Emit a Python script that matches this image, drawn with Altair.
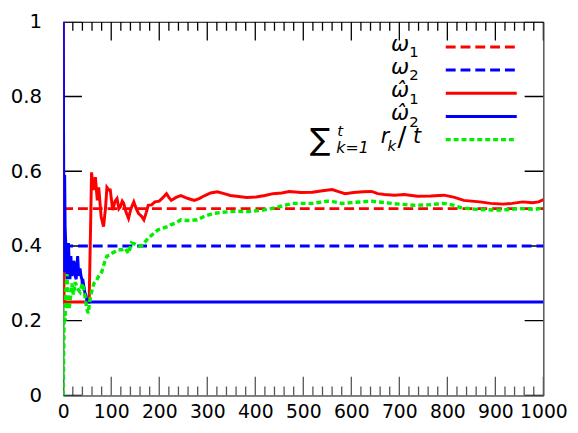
import altair as alt
import pandas as pd

W, H = 487, 379

# ---------------- data ----------------
x_major = list(range(0, 1001, 100))
x_minor = [v for v in range(0, 1001, 20) if v % 100 != 0]
y_major = [0, 0.2, 0.4, 0.6, 0.8, 1]

t_full = [0, 1000]
omega1 = [0.5, 0.5]
omega2 = [0.4, 0.4]

red_t = [0, 1, 2, 3, 54, 57, 59, 63, 67, 71, 74, 79, 84, 88, 91, 95, 98, 103, 108, 112,
         116, 119, 123, 126, 131, 136, 141, 147, 152, 157, 163, 168, 173, 177, 184, 191,
         200, 208, 215, 220, 225, 235, 245, 260, 273, 283, 295, 307, 321, 335, 348, 361,
         382, 402, 420, 437, 455, 471, 495, 519, 540, 560, 575, 587, 605, 625, 642, 655,
         669, 690, 710, 738, 765, 793, 815, 834, 850, 868, 890, 916, 935, 957, 977, 990, 1000]
red_v = [1.0, 0.33, 0.25, 0.25, 0.25, 0.45, 0.597, 0.55, 0.584, 0.522, 0.557, 0.478, 0.452,
         0.5, 0.557, 0.55, 0.55, 0.496, 0.52, 0.527, 0.50, 0.505, 0.52, 0.514, 0.49, 0.474,
         0.5, 0.518, 0.50, 0.487, 0.48, 0.47, 0.49, 0.509, 0.51, 0.518, 0.52, 0.53, 0.54,
         0.53, 0.522, 0.53, 0.535, 0.527, 0.522, 0.527, 0.535, 0.542, 0.545, 0.54, 0.535,
         0.533, 0.530, 0.531, 0.535, 0.540, 0.542, 0.546, 0.543, 0.544, 0.548, 0.551, 0.545,
         0.540, 0.543, 0.545, 0.546, 0.540, 0.538, 0.536, 0.538, 0.533, 0.534, 0.536, 0.53,
         0.522, 0.52, 0.518, 0.514, 0.512, 0.514, 0.518, 0.516, 0.518, 0.524]

blue_t = [0, 1, 2, 3, 4, 5, 6, 8, 10, 11, 13, 14, 16, 18, 20, 22, 23, 25, 27, 29, 30, 32,
          33, 35, 37, 39, 40, 42, 45, 47, 50, 52, 1000]
blue_v = [1.0, 0.60, 0.33, 0.59, 0.45, 0.417, 0.36, 0.311, 0.38, 0.408, 0.33, 0.311, 0.373,
          0.32, 0.33, 0.36, 0.355, 0.32, 0.311, 0.35, 0.373, 0.33, 0.32, 0.34, 0.32, 0.31,
          0.294, 0.30, 0.276, 0.27, 0.25, 0.25, 0.25]

green_t = [0, 2, 4, 6, 8, 10, 12, 15, 18, 21, 25, 30, 35, 40, 45, 49, 52, 55, 59, 64, 69,
           74, 80, 86, 91, 96, 101, 108, 115, 122, 129, 136, 142, 150, 157, 163, 170, 177,
           187, 197, 208, 218, 225, 235, 245, 260, 279, 295, 313, 330, 348, 365, 382, 400,
           416, 433, 450, 465, 478, 500, 519, 535, 550, 565, 580, 600, 620, 642, 655, 669,
           700, 731, 760, 793, 810, 827, 845, 861, 885, 909, 930, 950, 970, 984, 1000]
green_v = [0, 0.22, 0.2, 0.29, 0.325, 0.24, 0.23, 0.26, 0.3, 0.27, 0.303, 0.285, 0.277, 0.3,
           0.268, 0.232, 0.22, 0.25, 0.277, 0.30, 0.307, 0.32, 0.33, 0.356, 0.373, 0.375,
           0.38, 0.385, 0.39, 0.39, 0.394, 0.38, 0.408, 0.405, 0.40, 0.40, 0.41, 0.421,
           0.432, 0.443, 0.448, 0.452, 0.457, 0.462, 0.47, 0.468, 0.47, 0.48, 0.487, 0.49,
           0.492, 0.493, 0.492, 0.494, 0.496, 0.50, 0.505, 0.51, 0.514, 0.514, 0.514, 0.517,
           0.52, 0.518, 0.514, 0.516, 0.518, 0.52, 0.518, 0.516, 0.512, 0.509, 0.51, 0.514,
           0.51, 0.503, 0.50, 0.498, 0.497, 0.496, 0.498, 0.50, 0.499, 0.498, 0.502]

legend_symbols = ["ω", "ω", "ω\u0302", "ω\u0302"]
legend_subs = ["1", "2", "1", "2"]
legend_sum = ["∑", "t", "k=1", "r", "k", "/", "t"]

RED, BLUE, GREEN = "#ff0000", "#0000ff", "#00ee00"
FONT = "DejaVu Sans"

# tick lengths in data units (19 px major, 9 px minor)
Y_MAJ, Y_MIN = 19 / H, 9 / H
X_MAJ = 19 / W * 1000

# ---------------- scales & axes ----------------
xs = alt.Scale(domain=[0, 1000], nice=False, zero=False)
ys = alt.Scale(domain=[0, 1], nice=False, zero=False)

ax_x = alt.Axis(orient="bottom", values=x_major, ticks=False, labelFontSize=19,
                labelFont=FONT, labelColor="black", labelPadding=7, format="d",
                labelFlush=False, labelOverlap=False, domainColor="#808080",
                domainWidth=1.5, grid=False)
ax_y = alt.Axis(orient="left", values=y_major, ticks=False, labelFontSize=20,
                labelFont=FONT, labelColor="black", labelPadding=22, format="~g",
                domainColor="#808080", domainWidth=1.5, grid=False)


def series(t, v, color, dash=None, width=3):
    df = pd.DataFrame({"t": t, "v": v})
    kw = dict(color=color, strokeWidth=width, clip=True)
    if dash is not None:
        kw["strokeDash"] = dash
    return alt.Chart(df).mark_line(**kw).encode(
        x=alt.X("t:Q", scale=xs, axis=ax_x, title=None),
        y=alt.Y("v:Q", scale=ys, axis=ax_y, title=None),
    )


# --- inward tick marks (gnuplot style) drawn as short line segments ---
def tick_table(items):
    ids, ts, vs = [], [], []
    for k, (t0, v0, t1, v1) in enumerate(items):
        ids += [k, k]
        ts += [t0, t1]
        vs += [v0, v1]
    return pd.DataFrame({"id": ids, "t": ts, "v": vs})


bottom_items = ([(t, 0, t, Y_MAJ) for t in x_major] +
                [(t, 0, t, Y_MIN) for t in x_minor])
other_items = ([(t, 1, t, 1 - Y_MAJ) for t in x_major] +
               [(t, 1, t, 1 - Y_MIN) for t in x_minor] +
               [(0, v, X_MAJ, v) for v in y_major] +
               [(1000 - X_MAJ, v, 1000, v) for v in y_major])


def tick_layer(items, color):
    return alt.Chart(tick_table(items)).mark_line(
        color=color, strokeWidth=1.3, clip=True
    ).encode(
        x=alt.X("t:Q", scale=xs, axis=ax_x, title=None),
        y=alt.Y("v:Q", scale=ys, axis=ax_y, title=None),
        detail="id:N",
    )


ticks = [tick_layer(bottom_items, "#555555"), tick_layer(other_items, "black")]

one = pd.DataFrame({"a": [0]})

l_w1 = series(t_full, omega1, RED, dash=[10, 5])
l_w2 = series(t_full, omega2, BLUE, dash=[10, 5])
l_r = series(red_t, red_v, RED)
l_b = series(blue_t, blue_v, BLUE)
l_g = series(green_t, green_v, GREEN, dash=[5, 3], width=3.5)


def txt(s, x, y, size=20, align="right", italic=True):
    kw = dict(text=s, font=FONT, fontSize=size, align=align, baseline="alphabetic",
              color="black")
    if italic:
        kw["fontStyle"] = "italic"
    return alt.Chart(one).mark_text(**kw).encode(x=alt.value(x), y=alt.value(y))


def rule(color, y, dash=None, width=3):
    kw = dict(color=color, strokeWidth=width)
    if dash is not None:
        kw["strokeDash"] = dash
    return alt.Chart(one).mark_rule(**kw).encode(
        x=alt.value(388), x2=alt.value(460), y=alt.value(y))


row_y = [25.5, 49, 72.5, 96, 119.5]
leg = []
for i, (sym, sub) in enumerate(zip(legend_symbols, legend_subs)):
    base = row_y[i] + 4
    leg.append(txt(sym, 351, base, size=22))
    leg.append(txt(sub, 351, base + 6.5, size=15, align="left", italic=False))

# sum label
sb = row_y[4] + 3.5
leg.append(txt(legend_sum[0], 250, sb + 7, size=31, align="left", italic=False))
leg.append(txt(legend_sum[1], 278, sb - 7, size=15, align="left"))
leg.append(txt(legend_sum[2], 277, sb + 10, size=16, align="left"))
leg.append(txt(legend_sum[3], 322, sb, size=21, align="left"))
leg.append(txt(legend_sum[4], 329, sb + 8, size=15, align="left"))
leg.append(txt(legend_sum[5], 339, sb + 3, size=27, align="left", italic=False))
leg.append(txt(legend_sum[6], 363, sb, size=21))

leg += [
    rule(RED, row_y[0], dash=[10, 5]),
    rule(BLUE, row_y[1], dash=[10, 5]),
    rule(RED, row_y[2]),
    rule(BLUE, row_y[3]),
    rule(GREEN, row_y[4], dash=[5, 3], width=3.5),
]

chart = alt.layer(*ticks, l_w1, l_w2, l_r, l_b, l_g, *leg).properties(
    width=W, height=H, autosize="none",
    padding={"left": 56, "top": 11, "right": 27, "bottom": 28},
).configure_view(stroke="black", strokeWidth=1)

chart.save("out.html", embed_options={"renderer": "svg", "actions": False})
